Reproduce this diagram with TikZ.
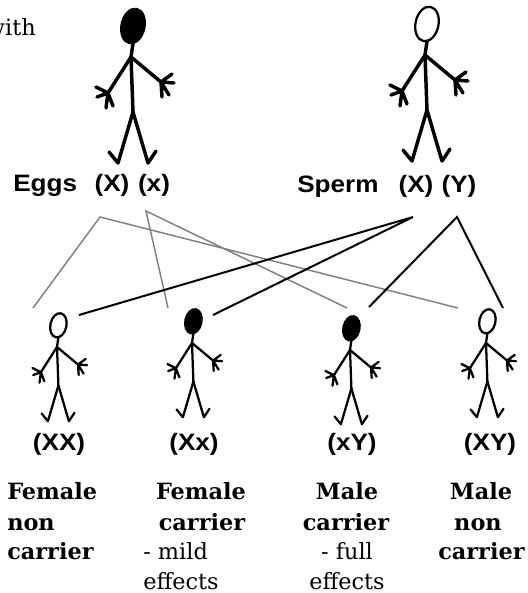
\documentclass[tikz,border=0pt]{standalone}
\usepackage{fontspec}
\setmainfont{DejaVu Serif}
\newfontfamily\labelsans[FakeStretch=1.1]{Liberation Sans}

\begin{document}
\begin{tikzpicture}[x=0.75pt, y=-0.75pt,
    every node/.style={inner sep=0pt},
    gene/.style={font=\labelsans\bfseries\fontsize{17.8}{20}\selectfont, anchor=base},
    pheno/.style={font=\fontsize{16.8}{22}\selectfont, anchor=base},
    phenob/.style={pheno, font=\bfseries\fontsize{16.8}{22}\selectfont},
    eggline/.style={draw=gray, line width=1.1pt},
    spermline/.style={draw=black, line width=1.5pt},
    pics/stickman/.style={code={
      % head, then body, arms with fingers and legs with feet
      \draw[line width=1.7pt, fill=#1] (2,-31) ellipse [x radius=11.5, y radius=17.5, rotate=-12];
      \draw (2,-14) -- (0,0) -- (2,55);
      \draw (0,0) -- (-23,36) -- ++(-12,-6) (-23,36) -- ++(-11,4)
            (-23,36) -- ++(-2,15) (-23,36) -- ++(5,13);
      \draw (0,0) -- (30,25) -- ++(11,-8) (30,25) -- ++(13,1)
            (30,25) -- ++(1,15) (30,25) -- ++(8,13);
      \draw (2,55) -- (-13,106) -- ++(-9,-11);
      \draw (2,55) -- (17,106) -- ++(8,-12);
    }}]
  \useasboundingbox (0,0) rectangle (528,593);

  % text cut off on the left
  \node[pheno, anchor=base east] (with) at (36,35) {with};

  % parents
  \pic[line width=2.6pt, line cap=round, line join=round] at (131,57) {stickman=black};
  \pic[line width=2.6pt, line cap=round, line join=round] at (425,55) {stickman=white};

  \node[gene, anchor=base west] (eggs) at (13,191) {Eggs};
  \node[gene] (eggsX) at (112,191) {(X)};
  \node[gene] (eggsx) at (154,191) {(x)};
  \node[gene, anchor=base west] (sperm) at (297,192) {Sperm};
  \node[gene] (spermX) at (416,192) {(X)};
  \node[gene] (spermY) at (459,192) {(Y)};

  % children
  \pic[scale=0.7, line width=1.7pt, line cap=round, line join=round] at (57,347) {stickman=white};
  \pic[scale=0.7, line width=1.7pt, line cap=round, line join=round] at (192,343) {stickman=black};
  \pic[scale=0.7, line width=1.7pt, line cap=round, line join=round] at (350,350) {stickman=black};
  \pic[scale=0.7, line width=1.7pt, line cap=round, line join=round] at (486,343) {stickman=white};

  \node[gene] (XX) at (59,450) {(XX)};
  \node[gene] (Xx) at (194,450) {(Xx)};
  \node[gene] (xY) at (352,450) {(xY)};
  \node[gene] (XY) at (490,450) {(XY)};

  % where the crossing lines start and end
  \coordinate (eggX) at (100,217);
  \coordinate (eggx) at (146,211);
  \coordinate (sprX) at (413,217);
  \coordinate (sprY) at (457,217);
  \coordinate (XXl) at (33,308);
  \coordinate (XXr) at (79,315);
  \coordinate (Xxl) at (168,308);
  \coordinate (Xxr) at (213,315);
  \coordinate (xYl) at (347,308);
  \coordinate (xYr) at (369,307);
  \coordinate (XYl) at (458,308);
  \coordinate (XYr) at (503,308);

  \draw[eggline] (XXl) -- (eggX) -- (XYl);
  \draw[eggline] (Xxl) -- (eggx) -- (xYl);
  \draw[spermline] (XXr) -- (sprX) -- (Xxr);
  \draw[spermline] (xYr) -- (sprY) -- (XYr);

  % what each child is
  \node[phenob, anchor=base west] (fnc1) at (7,499) {Female};
  \node[phenob, anchor=base west] (fnc2) at (7,530) {non};
  \node[phenob, anchor=base west] (fnc3) at (7,559) {carrier};

  \node[phenob] (fc1) at (201,499) {Female};
  \node[phenob] (fc2) at (202,530) {carrier};
  \node[pheno, anchor=base west] (fc3) at (143,559) {- mild};
  \node[pheno, anchor=base west] (fc4) at (143,589) {effects};

  \node[phenob] (mc1) at (347,499) {Male};
  \node[phenob] (mc2) at (346,530) {carrier};
  \node[pheno] (mc3) at (347,559) {- full};
  \node[pheno] (mc4) at (347,589) {effects};

  \node[phenob] (mnc1) at (481,499) {Male};
  \node[phenob] (mnc2) at (478,530) {non};
  \node[phenob, anchor=base west] (mnc3) at (438,559) {carrier};
\end{tikzpicture}
\end{document}
